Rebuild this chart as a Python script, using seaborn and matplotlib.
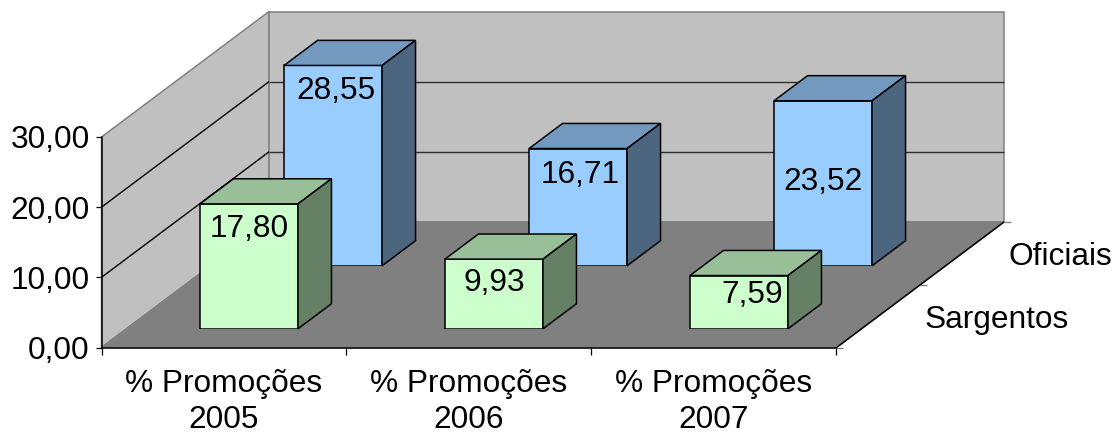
import numpy as np
import matplotlib.pyplot as plt
from matplotlib.patches import Polygon
from matplotlib.ticker import FuncFormatter
from matplotlib.transforms import IdentityTransform
import seaborn as sns

# data
categories = ["% Promoções\n2005", "% Promoções\n2006", "% Promoções\n2007"]
series_names = ["Sargentos", "Oficiais"]
sargentos = [17.80, 9.93, 7.59]
oficiais = [28.55, 16.71, 23.52]
y_ticks = [0, 10, 20, 30]

# label offsets from the bar's top centre, px (the original has them hand placed)
sarg_offsets = [(0, 33), (0, 32), (13, 27)]
ofic_offsets = [(3, 34), (2, 34), (0, 89)]

sns.set_style("white")
plt.rcParams["font.family"] = ["Liberation Sans", "DejaVu Sans"]
fs = 22.8

W, H = 1116, 434
DEPTH = np.array([167.5, 125.5])  # px shift of the whole floor depth
LEFT, BOTTOM, AW, AH = 101.5, 434 - 347.5, 735.0, 210.5

fig = plt.figure(figsize=(W / 100, H / 100), dpi=100)


def make_axes(d):
    dx, dy = DEPTH * d
    a = fig.add_axes([(LEFT + dx) / W, (BOTTOM + dy) / H, AW / W, AH / H])
    a.patch.set_visible(False)
    return a


def proj(a, x, y, d=0.0):
    return a.transData.transform((x, y)) + DEPTH * d


def face(a, pts, fc, ec, lw=1.1, z=3):
    a.add_patch(
        Polygon(pts, closed=True, facecolor=fc, edgecolor=ec, linewidth=lw,
                transform=IdentityTransform(), clip_on=False, zorder=z)
    )


def line(a, p0, p1, color, lw=1.0, z=2):
    a.plot([p0[0], p1[0]], [p0[1], p1[1]], color=color, lw=lw, solid_capstyle="butt",
           transform=IdentityTransform(), clip_on=False, zorder=z)


def fmt(v):
    return f"{v:.2f}".replace(".", ",")


# walls and floor
ax = make_axes(0)
ax.set_xlim(-0.5, 2.5)
ax.set_ylim(0, 30)
wall = "#c0c0c0"
floor = "#808080"
edge = "#808080"
xa, xb = -0.5, 2.5
face(ax, [proj(ax, xa, 0), proj(ax, xa, 30), proj(ax, xa, 30, 1), proj(ax, xa, 0, 1)], wall, edge, z=1)
face(ax, [proj(ax, xa, 0, 1), proj(ax, xa, 30, 1), proj(ax, xb, 30, 1), proj(ax, xb, 0, 1)], wall, edge, z=1)
face(ax, [proj(ax, xa, 0), proj(ax, xb, 0), proj(ax, xb, 0, 1), proj(ax, xa, 0, 1)], floor, edge, z=1)
for v in y_ticks[1:-1]:
    line(ax, proj(ax, xa, v), proj(ax, xa, v, 1), "black")
    line(ax, proj(ax, xa, v, 1), proj(ax, xb, v, 1), "#303030")
line(ax, proj(ax, xb, 0), proj(ax, xb, 0, 1), "black", 1.1)

# depth axis ticks and names
for d in [0, 0.5, 1]:
    p = proj(ax, xb, 0, d)
    line(ax, p, p + np.array([7, 0]), "#808080", 1.0, z=1)
for name, d in zip(series_names, [0.25, 0.75]):
    p = proj(ax, xb, 0, d) + np.array([46.5, -12])
    ax.text(p[0], p[1], name, fontsize=fs, color="black", ha="left", va="baseline",
            transform=IdentityTransform(), clip_on=False)

# value and category axes
sns.despine(ax=ax, top=True, right=True)
for s in ["left", "bottom"]:
    ax.spines[s].set_color("black")
    ax.spines[s].set_linewidth(1.1)
    ax.spines[s].set_zorder(4)
ax.set_yticks(y_ticks)
ax.yaxis.set_major_formatter(FuncFormatter(lambda v, pos: fmt(v)))
ax.tick_params(axis="y", left=True, length=4.5, width=0.9, pad=4, labelsize=fs,
               color="black", labelcolor="black")
ax.set_xticks(range(len(categories)))
ax.set_xticklabels(categories, linespacing=1.28)
ax.set_xticks([-0.5, 0.5, 1.5, 2.5], minor=True)
ax.tick_params(axis="x", which="major", length=0, pad=15.5, labelsize=fs, labelcolor="black")
ax.tick_params(axis="x", which="minor", bottom=True, length=5, width=0.9, color="black")


def draw_row(d, values, offsets, front, top, side):
    a = make_axes(d)
    sns.barplot(x=categories, y=values, ax=a, color=front, saturation=1, width=0.4,
                edgecolor="black", linewidth=1.1)
    a.set_xlim(-0.5, 2.5)
    a.set_ylim(0, 30)
    a.set_axis_off()
    bd = 0.2
    for p, v, off in zip(list(a.patches), values, offsets):
        x0, x1 = p.get_x(), p.get_x() + p.get_width()
        h = p.get_height()
        face(a, [proj(a, x0, h), proj(a, x1, h), proj(a, x1, h, bd), proj(a, x0, h, bd)], top, "black")
        face(a, [proj(a, x1, 0), proj(a, x1, h), proj(a, x1, h, bd), proj(a, x1, 0, bd)], side, "black")
        a.annotate(fmt(v), xy=((x0 + x1) / 2, h), xytext=(off[0] * 0.72, -off[1] * 0.72),
                   textcoords="offset points", ha="center", va="baseline", fontsize=fs,
                   color="black", zorder=5)
    return a


ax_back = draw_row(0.651, oficiais, ofic_offsets, "#99ccff", "#7399bf", "#4d6680")
ax_front = draw_row(0.149, sargentos, sarg_offsets, "#ccffcc", "#99bf99", "#668066")

fig.savefig("out.png", dpi=100, facecolor="white")
